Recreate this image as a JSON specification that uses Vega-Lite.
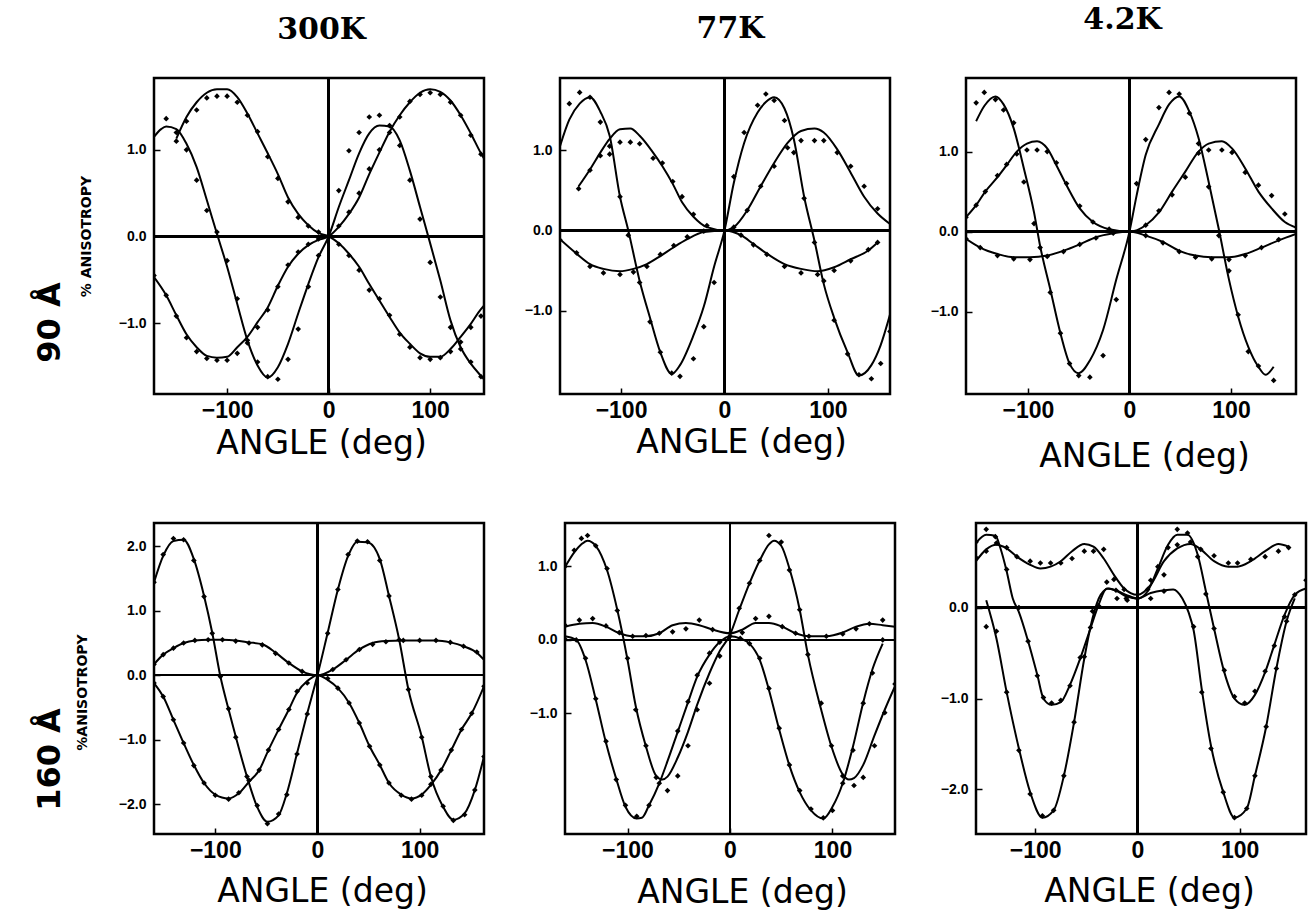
{
"$schema":"https://vega.github.io/schema/vega-lite/v6.json",
"padding":{"left":31,"top":2,"right":0,"bottom":0},
"background":"white",
"config":{
 "view":{"stroke":"black","strokeWidth":2.5},
 "axis":{"grid":false,"domain":false,"tickColor":"black","tickSize":-6,"tickWidth":1.5,"labelColor":"black","titleColor":"black","labelFont":"Liberation Sans","labelFontWeight":"bold"},
 "axisX":{"labelFontSize":23,"labelPadding":11,"titleFont":"DejaVu Sans","titleFontSize":33,"titleFontWeight":"normal","titleBaseline":"alphabetic"},
 "axisY":{"labelFontSize":14,"labelPadding":14,"titleFont":"DejaVu Sans","titleFontSize":14,"titleFontWeight":"bold","titleBaseline":"middle"},
 "line":{"color":"black","strokeWidth":2,"interpolate":"monotone"},
 "point":{"color":"black","filled":true,"shape":"diamond","size":32,"opacity":1},
 "rule":{"color":"black","strokeWidth":1.5}
},
"spacing":46,
"vconcat":[
{"spacing":37,
 "hconcat":[
 {"width":330,"height":316,"resolve":{"axis":{"x":"independent","y":"independent"}},
  "data":{"values":[
{"c":"a","x":-150,"y":1.13,"m":1.10},{"c":"a","x":-140,"y":1.38,"m":1.33},{"c":"a","x":-130,"y":1.55,"m":1.46},{"c":"a","x":-120,"y":1.66,"m":1.60},{"c":"a","x":-110,"y":1.70,"m":1.62},{"c":"a","x":-100,"y":1.70,"m":1.62},{"c":"a","x":-90,"y":1.61,"m":1.55},{"c":"a","x":-80,"y":1.42,"m":1.40},{"c":"a","x":-70,"y":1.19,"m":1.21},{"c":"a","x":-60,"y":0.96,"m":0.92},{"c":"a","x":-50,"y":0.72,"m":0.67},{"c":"a","x":-40,"y":0.45,"m":0.40},{"c":"a","x":-30,"y":0.26,"m":0.22},{"c":"a","x":-20,"y":0.13,"m":0.12},{"c":"a","x":-10,"y":0.04,"m":0.05},{"c":"a","x":0,"y":0,"m":0},{"c":"a","x":10,"y":-0.08,"m":-0.09},{"c":"a","x":20,"y":-0.20,"m":-0.22},{"c":"a","x":30,"y":-0.35,"m":-0.39},{"c":"a","x":40,"y":-0.55,"m":-0.62},{"c":"a","x":50,"y":-0.74,"m":-0.72},{"c":"a","x":60,"y":-0.93,"m":-0.91},{"c":"a","x":70,"y":-1.11,"m":-1.13},{"c":"a","x":80,"y":-1.24,"m":-1.28},{"c":"a","x":90,"y":-1.35,"m":-1.40},{"c":"a","x":100,"y":-1.39,"m":-1.42},{"c":"a","x":110,"y":-1.39,"m":-1.40},{"c":"a","x":120,"y":-1.30,"m":-1.33},{"c":"a","x":130,"y":-1.16,"m":-1.22},{"c":"a","x":140,"y":-1.01,"m":-1.05},{"c":"a","x":150,"y":-0.84,"m":-0.92},{"c":"a","x":153,"y":-0.80},
{"c":"b","x":-172,"y":-0.47,"m":-0.45},{"c":"b","x":-160,"y":-0.68,"m":-0.68},{"c":"b","x":-150,"y":-0.91,"m":-0.92},{"c":"b","x":-140,"y":-1.13,"m":-1.17},{"c":"b","x":-130,"y":-1.28,"m":-1.33},{"c":"b","x":-120,"y":-1.38,"m":-1.41},{"c":"b","x":-110,"y":-1.40,"m":-1.43},{"c":"b","x":-100,"y":-1.39,"m":-1.43},{"c":"b","x":-90,"y":-1.28,"m":-1.35},{"c":"b","x":-80,"y":-1.16,"m":-1.23},{"c":"b","x":-70,"y":-0.99,"m":-1.05},{"c":"b","x":-60,"y":-0.82,"m":-0.85},{"c":"b","x":-50,"y":-0.57,"m":-0.58},{"c":"b","x":-40,"y":-0.35,"m":-0.33},{"c":"b","x":-30,"y":-0.20,"m":-0.18},{"c":"b","x":-20,"y":-0.10,"m":-0.09},{"c":"b","x":-10,"y":-0.04,"m":-0.03},{"c":"b","x":0,"y":0},{"c":"b","x":10,"y":0.11,"m":0.12},{"c":"b","x":20,"y":0.26,"m":0.28},{"c":"b","x":30,"y":0.45,"m":0.50},{"c":"b","x":40,"y":0.72,"m":0.78},{"c":"b","x":50,"y":0.97,"m":1.00},{"c":"b","x":60,"y":1.21,"m":1.20},{"c":"b","x":70,"y":1.40,"m":1.38},{"c":"b","x":80,"y":1.55,"m":1.56},{"c":"b","x":90,"y":1.66,"m":1.64},{"c":"b","x":100,"y":1.70,"m":1.66},{"c":"b","x":110,"y":1.67,"m":1.64},{"c":"b","x":120,"y":1.57,"m":1.55},{"c":"b","x":130,"y":1.40,"m":1.40},{"c":"b","x":140,"y":1.19,"m":1.17},{"c":"b","x":150,"y":0.96,"m":0.95},{"c":"b","x":153,"y":0.90},
{"c":"c","x":-172,"y":1.15},{"c":"c","x":-165,"y":1.24},{"c":"c","x":-160,"y":1.27,"m":1.36},{"c":"c","x":-150,"y":1.24,"m":1.20},{"c":"c","x":-140,"y":1.07,"m":1.00},{"c":"c","x":-130,"y":0.80,"m":0.65},{"c":"c","x":-120,"y":0.42,"m":0.30},{"c":"c","x":-110,"y":0.03,"m":0.05},{"c":"c","x":-100,"y":-0.35,"m":-0.28},{"c":"c","x":-90,"y":-0.78,"m":-0.72},{"c":"c","x":-80,"y":-1.20,"m":-1.20},{"c":"c","x":-70,"y":-1.49,"m":-1.45},{"c":"c","x":-60,"y":-1.63,"m":-1.62},{"c":"c","x":-50,"y":-1.51,"m":-1.65},{"c":"c","x":-40,"y":-1.24,"m":-1.42},{"c":"c","x":-30,"y":-0.89,"m":-1.07},{"c":"c","x":-20,"y":-0.55,"m":-0.58},{"c":"c","x":-10,"y":-0.24,"m":-0.22},{"c":"c","x":0,"y":0},{"c":"c","x":10,"y":0.34,"m":0.53},{"c":"c","x":20,"y":0.65,"m":0.99},{"c":"c","x":30,"y":0.96,"m":1.20},{"c":"c","x":40,"y":1.19,"m":1.38},{"c":"c","x":50,"y":1.28,"m":1.40},{"c":"c","x":60,"y":1.27,"m":1.28},{"c":"c","x":70,"y":1.11,"m":1.05},{"c":"c","x":80,"y":0.76,"m":0.65},{"c":"c","x":90,"y":0.34,"m":0.20},{"c":"c","x":100,"y":-0.08,"m":-0.30},{"c":"c","x":110,"y":-0.51,"m":-0.70},{"c":"c","x":120,"y":-0.97,"m":-1.05},{"c":"c","x":130,"y":-1.28,"m":-1.30},{"c":"c","x":140,"y":-1.47,"m":-1.45},{"c":"c","x":150,"y":-1.61,"m":-1.62},{"c":"c","x":153,"y":-1.65}
  ]},
  "layer":[
   {"mark":{"type":"line","clip":true},"encoding":{
     "x":{"field":"x","type":"quantitative","scale":{"domain":[-172,153],"nice":false,"zero":false},"axis":{"values":[-100,0,100],"format":"d","title":"ANGLE (deg)","titleX":167,"titleY":59}},
     "y":{"field":"y","type":"quantitative","scale":{"domain":[-1.82,1.83],"nice":false,"zero":false},"axis":{"values":[-1,0,1],"format":".1f","title":"% ANISOTROPY","titleX":-68,"titleY":158}},
     "detail":{"field":"c","type":"nominal"}}},
   {"transform":[{"filter":"isValid(datum.m)"}],"mark":{"type":"point","clip":true},"encoding":{"x":{"field":"x","type":"quantitative","axis":null},"y":{"field":"m","type":"quantitative","axis":null}}},
   {"mark":"rule","encoding":{"y":{"datum":0,"axis":{"orient":"left","title":"90 Å","labels":false,"ticks":false,"titleFont":"DejaVu Sans","titleFontSize":32,"titleFontWeight":"bold","titleX":-105,"titleY":244}}}},
   {"mark":"rule","encoding":{"x":{"datum":0,"axis":{"orient":"top","title":"300K","labels":false,"ticks":false,"titleFont":"DejaVu Serif","titleFontSize":30,"titleFontWeight":"bold","titleX":167,"titleY":-40}}}}
  ]},
 {"width":330,"height":316,"resolve":{"axis":{"x":"independent","y":"independent"}},
  "data":{"values":[
{"c":"a","x":-159,"y":1.05},{"c":"a","x":-150,"y":1.38,"m":1.58},{"c":"a","x":-140,"y":1.58,"m":1.72},{"c":"a","x":-130,"y":1.66,"m":1.66},{"c":"a","x":-120,"y":1.48,"m":1.35},{"c":"a","x":-111,"y":1.18,"m":0.95},{"c":"a","x":-101,"y":0.42,"m":0.42},{"c":"a","x":-93,"y":0.0,"m":-0.06},{"c":"a","x":-82,"y":-0.63,"m":-0.65},{"c":"a","x":-72,"y":-1.09,"m":-1.14},{"c":"a","x":-62,"y":-1.52,"m":-1.52},{"c":"a","x":-51,"y":-1.79,"m":-1.78},{"c":"a","x":-43,"y":-1.68,"m":-1.82},{"c":"a","x":-30,"y":-1.31,"m":-1.60},{"c":"a","x":-20,"y":-0.95,"m":-1.20},{"c":"a","x":-10,"y":-0.45,"m":-0.65},{"c":"a","x":0,"y":0},{"c":"a","x":9,"y":0.59,"m":0.67},{"c":"a","x":19,"y":1.09,"m":1.22},{"c":"a","x":32,"y":1.47,"m":1.56},{"c":"a","x":40,"y":1.60,"m":1.70},{"c":"a","x":48,"y":1.66,"m":1.62},{"c":"a","x":58,"y":1.52,"m":1.37},{"c":"a","x":67,"y":1.14,"m":0.97},{"c":"a","x":77,"y":0.42,"m":0.40},{"c":"a","x":87,"y":-0.13,"m":-0.15},{"c":"a","x":96,"y":-0.67,"m":-0.63},{"c":"a","x":106,"y":-1.09,"m":-1.12},{"c":"a","x":119,"y":-1.52,"m":-1.54},{"c":"a","x":130,"y":-1.81,"m":-1.80},{"c":"a","x":142,"y":-1.68,"m":-1.85},{"c":"a","x":151,"y":-1.43,"m":-1.66},{"c":"a","x":160,"y":-1.05,"m":-1.26},
{"c":"b","x":-141,"y":0.55,"m":0.52},{"c":"b","x":-130,"y":0.76,"m":0.75},{"c":"b","x":-120,"y":0.97,"m":0.93},{"c":"b","x":-111,"y":1.14,"m":1.05},{"c":"b","x":-101,"y":1.26,"m":1.10},{"c":"b","x":-91,"y":1.27,"m":1.10},{"c":"b","x":-82,"y":1.18,"m":1.08},{"c":"b","x":-69,"y":0.97,"m":0.90},{"c":"b","x":-60,"y":0.80,"m":0.84},{"c":"b","x":-50,"y":0.58,"m":0.61},{"c":"b","x":-41,"y":0.35,"m":0.42},{"c":"b","x":-30,"y":0.17,"m":0.20},{"c":"b","x":-17,"y":0.04,"m":0.06},{"c":"b","x":0,"y":0,"m":0},{"c":"b","x":9,"y":0.04,"m":0.04},{"c":"b","x":22,"y":0.25,"m":0.25},{"c":"b","x":35,"y":0.55,"m":0.55},{"c":"b","x":48,"y":0.84,"m":0.80},{"c":"b","x":61,"y":1.09,"m":1.03},{"c":"b","x":74,"y":1.24,"m":1.12},{"c":"b","x":87,"y":1.27,"m":1.12},{"c":"b","x":96,"y":1.22,"m":1.12},{"c":"b","x":109,"y":1.01,"m":0.97},{"c":"b","x":122,"y":0.72,"m":0.80},{"c":"b","x":135,"y":0.42,"m":0.55},{"c":"b","x":148,"y":0.21,"m":0.27},{"c":"b","x":160,"y":0.08},
{"c":"c","x":-159,"y":-0.11,"m":-0.12},{"c":"c","x":-143,"y":-0.29,"m":-0.28},{"c":"c","x":-130,"y":-0.42,"m":-0.45},{"c":"c","x":-117,"y":-0.48,"m":-0.53},{"c":"c","x":-101,"y":-0.51,"m":-0.55},{"c":"c","x":-88,"y":-0.48,"m":-0.52},{"c":"c","x":-75,"y":-0.42,"m":-0.45},{"c":"c","x":-62,"y":-0.32,"m":-0.30},{"c":"c","x":-49,"y":-0.21,"m":-0.19},{"c":"c","x":-36,"y":-0.11,"m":-0.08},{"c":"c","x":-20,"y":-0.02,"m":-0.01},{"c":"c","x":0,"y":0},{"c":"c","x":16,"y":-0.06,"m":-0.06},{"c":"c","x":28,"y":-0.17,"m":-0.18},{"c":"c","x":41,"y":-0.29,"m":-0.30},{"c":"c","x":58,"y":-0.42,"m":-0.45},{"c":"c","x":74,"y":-0.48,"m":-0.53},{"c":"c","x":90,"y":-0.51,"m":-0.55},{"c":"c","x":106,"y":-0.46,"m":-0.50},{"c":"c","x":122,"y":-0.36,"m":-0.38},{"c":"c","x":139,"y":-0.25,"m":-0.24},{"c":"c","x":148,"y":-0.15,"m":-0.15}
  ]},
  "layer":[
   {"mark":{"type":"line","clip":true},"encoding":{
     "x":{"field":"x","type":"quantitative","scale":{"domain":[-159,160],"nice":false,"zero":false},"axis":{"values":[-100,0,100],"format":"d","title":"ANGLE (deg)","titleX":181,"titleY":58}},
     "y":{"field":"y","type":"quantitative","scale":{"domain":[-2.04,1.90],"nice":false,"zero":false},"axis":{"values":[-1,0,1],"format":".1f","title":null}},
     "detail":{"field":"c","type":"nominal"}}},
   {"transform":[{"filter":"isValid(datum.m)"}],"mark":{"type":"point","clip":true},"encoding":{"x":{"field":"x","type":"quantitative","axis":null},"y":{"field":"m","type":"quantitative","axis":null}}},
   {"mark":"rule","encoding":{"y":{"datum":0,"axis":null}}},
   {"mark":"rule","encoding":{"x":{"datum":0,"axis":{"orient":"top","title":"77K","labels":false,"ticks":false,"titleFont":"DejaVu Serif","titleFontSize":30,"titleFontWeight":"bold","titleX":170,"titleY":-41}}}}
  ]},
 {"width":330,"height":316,"resolve":{"axis":{"x":"independent","y":"independent"}},
  "data":{"values":[
{"c":"a","x":-151,"y":1.38,"m":1.61},{"c":"a","x":-143,"y":1.57,"m":1.74},{"c":"a","x":-132,"y":1.69,"m":1.65},{"c":"a","x":-124,"y":1.59,"m":1.52},{"c":"a","x":-114,"y":1.29,"m":1.36},{"c":"a","x":-104,"y":0.79,"m":0.62},{"c":"a","x":-94,"y":0.24,"m":0.10},{"c":"a","x":-88,"y":-0.18,"m":-0.20},{"c":"a","x":-78,"y":-0.72,"m":-0.76},{"c":"a","x":-68,"y":-1.27,"m":-1.27},{"c":"a","x":-59,"y":-1.65,"m":-1.65},{"c":"a","x":-50,"y":-1.77,"m":-1.80},{"c":"a","x":-39,"y":-1.61,"m":-1.82},{"c":"a","x":-26,"y":-1.23,"m":-1.55},{"c":"a","x":-13,"y":-0.60,"m":-0.85},{"c":"a","x":0,"y":0},{"c":"a","x":7,"y":0.45,"m":0.60},{"c":"a","x":16,"y":0.96,"m":1.15},{"c":"a","x":29,"y":1.34,"m":1.55},{"c":"a","x":39,"y":1.59,"m":1.74},{"c":"a","x":49,"y":1.69,"m":1.72},{"c":"a","x":59,"y":1.50,"m":1.48},{"c":"a","x":68,"y":1.17,"m":1.10},{"c":"a","x":78,"y":0.62,"m":0.56},{"c":"a","x":88,"y":0.03,"m":-0.05},{"c":"a","x":98,"y":-0.60,"m":-0.49},{"c":"a","x":107,"y":-1.06,"m":-1.04},{"c":"a","x":117,"y":-1.44,"m":-1.50},{"c":"a","x":127,"y":-1.69,"m":-1.68},{"c":"a","x":134,"y":-1.79},{"c":"a","x":142,"y":-1.69,"m":-1.86},
{"c":"b","x":-161,"y":0.18,"m":0.18},{"c":"b","x":-151,"y":0.33,"m":0.33},{"c":"b","x":-142,"y":0.50,"m":0.50},{"c":"b","x":-130,"y":0.68,"m":0.70},{"c":"b","x":-121,"y":0.83,"m":0.84},{"c":"b","x":-111,"y":1.00,"m":0.97},{"c":"b","x":-101,"y":1.10,"m":1.02},{"c":"b","x":-91,"y":1.13,"m":1.02},{"c":"b","x":-81,"y":1.04,"m":1.00},{"c":"b","x":-72,"y":0.83,"m":0.86},{"c":"b","x":-62,"y":0.58,"m":0.60},{"c":"b","x":-49,"y":0.29,"m":0.32},{"c":"b","x":-36,"y":0.12,"m":0.12},{"c":"b","x":-20,"y":0.03,"m":0.03},{"c":"b","x":0,"y":0,"m":0},{"c":"b","x":16,"y":0.08,"m":0.08},{"c":"b","x":29,"y":0.24,"m":0.26},{"c":"b","x":42,"y":0.50,"m":0.46},{"c":"b","x":55,"y":0.75,"m":0.68},{"c":"b","x":68,"y":1.00,"m":0.98},{"c":"b","x":78,"y":1.10,"m":1.02},{"c":"b","x":91,"y":1.13,"m":1.02},{"c":"b","x":101,"y":1.04,"m":0.99},{"c":"b","x":114,"y":0.79,"m":0.74},{"c":"b","x":127,"y":0.50,"m":0.58},{"c":"b","x":140,"y":0.29,"m":0.45},{"c":"b","x":153,"y":0.12,"m":0.22},{"c":"b","x":164,"y":0.05},
{"c":"c","x":-161,"y":-0.09,"m":-0.09},{"c":"c","x":-147,"y":-0.20,"m":-0.20},{"c":"c","x":-130,"y":-0.28,"m":-0.30},{"c":"c","x":-114,"y":-0.32,"m":-0.34},{"c":"c","x":-98,"y":-0.32,"m":-0.35},{"c":"c","x":-81,"y":-0.30,"m":-0.31},{"c":"c","x":-65,"y":-0.24,"m":-0.25},{"c":"c","x":-49,"y":-0.16,"m":-0.16},{"c":"c","x":-33,"y":-0.07,"m":-0.08},{"c":"c","x":-16,"y":-0.02,"m":-0.02},{"c":"c","x":0,"y":0},{"c":"c","x":16,"y":-0.05,"m":-0.05},{"c":"c","x":33,"y":-0.13,"m":-0.14},{"c":"c","x":49,"y":-0.24,"m":-0.25},{"c":"c","x":65,"y":-0.30,"m":-0.32},{"c":"c","x":81,"y":-0.32,"m":-0.34},{"c":"c","x":98,"y":-0.32,"m":-0.35},{"c":"c","x":114,"y":-0.28,"m":-0.30},{"c":"c","x":130,"y":-0.20,"m":-0.20},{"c":"c","x":147,"y":-0.11,"m":-0.10},{"c":"c","x":164,"y":-0.03}
  ]},
  "layer":[
   {"mark":{"type":"line","clip":true},"encoding":{
     "x":{"field":"x","type":"quantitative","scale":{"domain":[-161,164],"nice":false,"zero":false},"axis":{"values":[-100,0,100],"format":"d","title":"ANGLE (deg)","titleX":178,"titleY":72}},
     "y":{"field":"y","type":"quantitative","scale":{"domain":[-2.03,1.92],"nice":false,"zero":false},"axis":{"values":[-1,0,1],"format":".1f","title":null}},
     "detail":{"field":"c","type":"nominal"}}},
   {"transform":[{"filter":"isValid(datum.m)"}],"mark":{"type":"point","clip":true},"encoding":{"x":{"field":"x","type":"quantitative","axis":null},"y":{"field":"m","type":"quantitative","axis":null}}},
   {"mark":"rule","encoding":{"y":{"datum":0,"axis":null}}},
   {"mark":"rule","encoding":{"x":{"datum":0,"axis":{"orient":"top","title":"4.2K","labels":false,"ticks":false,"titleFont":"DejaVu Serif","titleFontSize":30,"titleFontWeight":"bold","titleX":156,"titleY":-50}}}}
  ]}
 ]},
{"spacing":42,
 "hconcat":[
 {"width":330,"height":311,"resolve":{"axis":{"x":"independent","y":"independent"}},
  "data":{"values":[
{"c":"a","x":-160,"y":1.44,"m":1.44},{"c":"a","x":-151,"y":1.85,"m":1.87},{"c":"a","x":-141,"y":2.08,"m":2.12},{"c":"a","x":-131,"y":2.10,"m":2.10},{"c":"a","x":-121,"y":1.80,"m":1.78},{"c":"a","x":-111,"y":1.23,"m":1.22},{"c":"a","x":-103,"y":0.66,"m":0.65},{"c":"a","x":-95,"y":-0.02,"m":-0.02},{"c":"a","x":-87,"y":-0.53,"m":-0.52},{"c":"a","x":-80,"y":-0.95,"m":-0.96},{"c":"a","x":-69,"y":-1.57,"m":-1.57},{"c":"a","x":-59,"y":-2.04,"m":-2.02},{"c":"a","x":-49,"y":-2.27,"m":-2.30},{"c":"a","x":-38,"y":-2.17,"m":-2.15},{"c":"a","x":-30,"y":-1.83,"m":-1.85},{"c":"a","x":-20,"y":-1.21,"m":-1.22},{"c":"a","x":-10,"y":-0.59,"m":-0.60},{"c":"a","x":0,"y":0},{"c":"a","x":10,"y":0.66,"m":0.65},{"c":"a","x":20,"y":1.33,"m":1.33},{"c":"a","x":30,"y":1.85,"m":1.87},{"c":"a","x":39,"y":2.07,"m":2.08},{"c":"a","x":49,"y":2.06,"m":2.07},{"c":"a","x":61,"y":1.80,"m":1.78},{"c":"a","x":70,"y":1.23,"m":1.23},{"c":"a","x":80,"y":0.55,"m":0.55},{"c":"a","x":89,"y":-0.22,"m":-0.22},{"c":"a","x":102,"y":-0.95,"m":-0.96},{"c":"a","x":111,"y":-1.57,"m":-1.57},{"c":"a","x":123,"y":-2.04,"m":-2.03},{"c":"a","x":133,"y":-2.24,"m":-2.25},{"c":"a","x":144,"y":-2.14,"m":-2.16},{"c":"a","x":154,"y":-1.78,"m":-1.78},{"c":"a","x":163,"y":-1.26,"m":-1.26},
{"c":"b","x":-160,"y":-0.12,"m":-0.12},{"c":"b","x":-151,"y":-0.33,"m":-0.33},{"c":"b","x":-141,"y":-0.69,"m":-0.69},{"c":"b","x":-131,"y":-1.05,"m":-1.05},{"c":"b","x":-121,"y":-1.39,"m":-1.40},{"c":"b","x":-111,"y":-1.67,"m":-1.67},{"c":"b","x":-100,"y":-1.85,"m":-1.86},{"c":"b","x":-87,"y":-1.91,"m":-1.92},{"c":"b","x":-77,"y":-1.83,"m":-1.82},{"c":"b","x":-67,"y":-1.65,"m":-1.63},{"c":"b","x":-57,"y":-1.47,"m":-1.47},{"c":"b","x":-48,"y":-1.16,"m":-1.16},{"c":"b","x":-38,"y":-0.84,"m":-0.84},{"c":"b","x":-28,"y":-0.53,"m":-0.53},{"c":"b","x":-20,"y":-0.27,"m":-0.25},{"c":"b","x":-10,"y":-0.09,"m":-0.12},{"c":"b","x":0,"y":0},{"c":"b","x":10,"y":-0.07,"m":-0.05},{"c":"b","x":20,"y":-0.20,"m":-0.20},{"c":"b","x":31,"y":-0.43,"m":-0.43},{"c":"b","x":41,"y":-0.74,"m":-0.74},{"c":"b","x":51,"y":-1.10,"m":-1.10},{"c":"b","x":61,"y":-1.39,"m":-1.39},{"c":"b","x":70,"y":-1.67,"m":-1.67},{"c":"b","x":82,"y":-1.85,"m":-1.86},{"c":"b","x":92,"y":-1.91,"m":-1.92},{"c":"b","x":102,"y":-1.85,"m":-1.86},{"c":"b","x":111,"y":-1.70,"m":-1.69},{"c":"b","x":121,"y":-1.47,"m":-1.47},{"c":"b","x":131,"y":-1.16,"m":-1.16},{"c":"b","x":141,"y":-0.84,"m":-0.84},{"c":"b","x":151,"y":-0.59,"m":-0.59},{"c":"b","x":163,"y":-0.17,"m":-0.17},
{"c":"c","x":-160,"y":0.17,"m":0.17},{"c":"c","x":-151,"y":0.32,"m":0.32},{"c":"c","x":-141,"y":0.42,"m":0.42},{"c":"c","x":-131,"y":0.50,"m":0.50},{"c":"c","x":-120,"y":0.54,"m":0.54},{"c":"c","x":-107,"y":0.55,"m":0.55},{"c":"c","x":-93,"y":0.55,"m":0.55},{"c":"c","x":-80,"y":0.54,"m":0.53},{"c":"c","x":-67,"y":0.51,"m":0.50},{"c":"c","x":-54,"y":0.48,"m":0.47},{"c":"c","x":-41,"y":0.35,"m":0.34},{"c":"c","x":-28,"y":0.19,"m":0.19},{"c":"c","x":-15,"y":0.06,"m":0.06},{"c":"c","x":0,"y":0,"m":0},{"c":"c","x":15,"y":0.09,"m":0.09},{"c":"c","x":28,"y":0.24,"m":0.24},{"c":"c","x":41,"y":0.40,"m":0.40},{"c":"c","x":54,"y":0.50,"m":0.48},{"c":"c","x":67,"y":0.53,"m":0.52},{"c":"c","x":84,"y":0.54,"m":0.54},{"c":"c","x":100,"y":0.54,"m":0.54},{"c":"c","x":116,"y":0.54,"m":0.54},{"c":"c","x":130,"y":0.51,"m":0.51},{"c":"c","x":143,"y":0.45,"m":0.45},{"c":"c","x":156,"y":0.35,"m":0.36},{"c":"c","x":163,"y":0.24}
  ]},
  "layer":[
   {"mark":{"type":"line","clip":true},"encoding":{
     "x":{"field":"x","type":"quantitative","scale":{"domain":[-160,163],"nice":false,"zero":false},"axis":{"values":[-100,0,100],"format":"d","title":"ANGLE (deg)","titleX":168,"titleY":67}},
     "y":{"field":"y","type":"quantitative","scale":{"domain":[-2.46,2.36],"nice":false,"zero":false},"axis":{"values":[-2,-1,0,1,2],"format":".1f","title":"%ANISOTROPY","titleX":-72,"titleY":169}},
     "detail":{"field":"c","type":"nominal"}}},
   {"transform":[{"filter":"isValid(datum.m)"}],"mark":{"type":"point","clip":true},"encoding":{"x":{"field":"x","type":"quantitative","axis":null},"y":{"field":"m","type":"quantitative","axis":null}}},
   {"mark":"rule","encoding":{"y":{"datum":0,"axis":{"orient":"left","title":"160 Å","labels":false,"ticks":false,"titleFont":"DejaVu Sans","titleFontSize":32,"titleFontWeight":"bold","titleX":-105,"titleY":236}}}},
   {"mark":"rule","encoding":{"x":{"datum":0,"axis":null}}}
  ]},
 {"width":330,"height":311,"resolve":{"axis":{"x":"independent","y":"independent"}},
  "data":{"values":[
{"c":"a","x":-161,"y":0.99,"m":1.00},{"c":"a","x":-152,"y":1.19,"m":1.22},{"c":"a","x":-145,"y":1.30,"m":1.38},{"c":"a","x":-139,"y":1.35,"m":1.42},{"c":"a","x":-131,"y":1.28,"m":1.28},{"c":"a","x":-120,"y":0.95,"m":0.97},{"c":"a","x":-110,"y":0.41,"m":0.40},{"c":"a","x":-100,"y":-0.27,"m":-0.25},{"c":"a","x":-92,"y":-0.90,"m":-0.95},{"c":"a","x":-82,"y":-1.45,"m":-1.44},{"c":"a","x":-72,"y":-1.85,"m":-1.87},{"c":"a","x":-66,"y":-1.90},{"c":"a","x":-61,"y":-1.86,"m":-2.05},{"c":"a","x":-51,"y":-1.60,"m":-1.85},{"c":"a","x":-41,"y":-1.25,"m":-1.44},{"c":"a","x":-32,"y":-0.88,"m":-0.95},{"c":"a","x":-20,"y":-0.45,"m":-0.59},{"c":"a","x":-10,"y":-0.15,"m":-0.22},{"c":"a","x":0,"y":0.07},{"c":"a","x":9,"y":0.41,"m":0.43},{"c":"a","x":19,"y":0.77,"m":0.77},{"c":"a","x":29,"y":1.08,"m":1.08},{"c":"a","x":38,"y":1.30,"m":1.42},{"c":"a","x":43,"y":1.35},{"c":"a","x":50,"y":1.28,"m":1.33},{"c":"a","x":58,"y":0.97,"m":0.95},{"c":"a","x":68,"y":0.41,"m":0.41},{"c":"a","x":76,"y":-0.20,"m":-0.20},{"c":"a","x":89,"y":-0.95,"m":-0.86},{"c":"a","x":99,"y":-1.45,"m":-1.44},{"c":"a","x":110,"y":-1.83,"m":-1.85},{"c":"a","x":116,"y":-1.90},{"c":"a","x":121,"y":-1.88,"m":-1.98},{"c":"a","x":130,"y":-1.70,"m":-1.87},{"c":"a","x":141,"y":-1.30,"m":-1.44},{"c":"a","x":151,"y":-0.95,"m":-0.99},{"c":"a","x":161,"y":-0.63,"m":-0.60},
{"c":"b","x":-161,"y":0.05,"m":0.01},{"c":"b","x":-150,"y":0.0,"m":0.0},{"c":"b","x":-141,"y":-0.27,"m":-0.25},{"c":"b","x":-131,"y":-0.81,"m":-0.80},{"c":"b","x":-121,"y":-1.40,"m":-1.38},{"c":"b","x":-111,"y":-1.89,"m":-1.90},{"c":"b","x":-102,"y":-2.27,"m":-2.25},{"c":"b","x":-91,"y":-2.43,"m":-2.40},{"c":"b","x":-86,"y":-2.42},{"c":"b","x":-79,"y":-2.25,"m":-2.25},{"c":"b","x":-69,"y":-1.95,"m":-1.95},{"c":"b","x":-61,"y":-1.65},{"c":"b","x":-51,"y":-1.25,"m":-1.24},{"c":"b","x":-41,"y":-0.85,"m":-0.84},{"c":"b","x":-32,"y":-0.50,"m":-0.48},{"c":"b","x":-20,"y":-0.20,"m":-0.18},{"c":"b","x":-10,"y":-0.03,"m":-0.03},{"c":"b","x":0,"y":0.05,"m":0.05},{"c":"b","x":10,"y":0.02,"m":0.02},{"c":"b","x":19,"y":-0.05,"m":-0.05},{"c":"b","x":29,"y":-0.27,"m":-0.25},{"c":"b","x":38,"y":-0.68,"m":-0.66},{"c":"b","x":48,"y":-1.22,"m":-1.20},{"c":"b","x":58,"y":-1.71,"m":-1.70},{"c":"b","x":68,"y":-2.07,"m":-2.05},{"c":"b","x":79,"y":-2.32,"m":-2.30},{"c":"b","x":91,"y":-2.43,"m":-2.42},{"c":"b","x":100,"y":-2.27,"m":-2.32},{"c":"b","x":110,"y":-1.95,"m":-1.95},{"c":"b","x":120,"y":-1.45,"m":-1.50},{"c":"b","x":130,"y":-0.85,"m":-0.86},{"c":"b","x":139,"y":-0.40,"m":-0.45},{"c":"b","x":149,"y":-0.05,"m":0.0},
{"c":"c","x":-161,"y":0.18,"m":0.20},{"c":"c","x":-147,"y":0.22,"m":0.27},{"c":"c","x":-134,"y":0.23,"m":0.29},{"c":"c","x":-121,"y":0.18,"m":0.19},{"c":"c","x":-108,"y":0.09,"m":0.10},{"c":"c","x":-95,"y":0.05,"m":0.05},{"c":"c","x":-82,"y":0.05,"m":0.06},{"c":"c","x":-69,"y":0.09,"m":0.09},{"c":"c","x":-56,"y":0.20,"m":0.11},{"c":"c","x":-43,"y":0.23,"m":0.15},{"c":"c","x":-30,"y":0.20,"m":0.27},{"c":"c","x":-17,"y":0.14,"m":0.14},{"c":"c","x":0,"y":0.09,"m":0.09},{"c":"c","x":12,"y":0.14,"m":0.10},{"c":"c","x":25,"y":0.23,"m":0.29},{"c":"c","x":38,"y":0.23,"m":0.32},{"c":"c","x":51,"y":0.18,"m":0.18},{"c":"c","x":64,"y":0.09,"m":0.09},{"c":"c","x":77,"y":0.05,"m":0.05},{"c":"c","x":94,"y":0.05,"m":0.05},{"c":"c","x":110,"y":0.10,"m":0.08},{"c":"c","x":123,"y":0.18,"m":0.15},{"c":"c","x":136,"y":0.22,"m":0.22},{"c":"c","x":149,"y":0.20,"m":0.27},{"c":"c","x":161,"y":0.18}
  ]},
  "layer":[
   {"mark":{"type":"line","clip":true},"encoding":{
     "x":{"field":"x","type":"quantitative","scale":{"domain":[-161,161],"nice":false,"zero":false},"axis":{"values":[-100,0,100],"format":"d","title":"ANGLE (deg)","titleX":177,"titleY":68}},
     "y":{"field":"y","type":"quantitative","scale":{"domain":[-2.64,1.59],"nice":false,"zero":false},"axis":{"values":[-1,0,1],"format":".1f","title":null}},
     "detail":{"field":"c","type":"nominal"}}},
   {"transform":[{"filter":"isValid(datum.m)"}],"mark":{"type":"point","clip":true},"encoding":{"x":{"field":"x","type":"quantitative","axis":null},"y":{"field":"m","type":"quantitative","axis":null}}},
   {"mark":"rule","encoding":{"y":{"datum":0,"axis":null}}},
   {"mark":"rule","encoding":{"x":{"datum":0,"axis":null}}}
  ]},
 {"width":330,"height":311,"resolve":{"axis":{"x":"independent","y":"independent"}},
  "data":{"values":[
{"c":"a","x":-158,"y":0.51,"m":0.55},{"c":"a","x":-148,"y":0.64,"m":0.62},{"c":"a","x":-138,"y":0.69,"m":0.71},{"c":"a","x":-128,"y":0.65,"m":0.66},{"c":"a","x":-118,"y":0.56,"m":0.56},{"c":"a","x":-105,"y":0.47,"m":0.51},{"c":"a","x":-95,"y":0.43,"m":0.49},{"c":"a","x":-85,"y":0.45,"m":0.49},{"c":"a","x":-75,"y":0.51,"m":0.49},{"c":"a","x":-64,"y":0.62,"m":0.54},{"c":"a","x":-52,"y":0.70,"m":0.62},{"c":"a","x":-43,"y":0.67,"m":0.62},{"c":"a","x":-33,"y":0.54,"m":0.64},{"c":"a","x":-23,"y":0.36,"m":0.31},{"c":"a","x":-13,"y":0.21,"m":0.20},{"c":"a","x":0,"y":0.14},{"c":"a","x":13,"y":0.25,"m":0.30},{"c":"a","x":26,"y":0.51,"m":0.36},{"c":"a","x":39,"y":0.65,"m":0.69},{"c":"a","x":52,"y":0.70,"m":0.72},{"c":"a","x":62,"y":0.64,"m":0.64},{"c":"a","x":75,"y":0.51,"m":0.57},{"c":"a","x":89,"y":0.45,"m":0.49},{"c":"a","x":98,"y":0.45,"m":0.49},{"c":"a","x":111,"y":0.51,"m":0.53},{"c":"a","x":125,"y":0.62,"m":0.56},{"c":"a","x":138,"y":0.70,"m":0.62},{"c":"a","x":148,"y":0.67,"m":0.66},
{"c":"b","x":-158,"y":0.71,"m":0.72},{"c":"b","x":-148,"y":0.80,"m":0.86},{"c":"b","x":-139,"y":0.79,"m":0.78},{"c":"b","x":-134,"y":0.65},{"c":"b","x":-128,"y":0.40,"m":0.42},{"c":"b","x":-122,"y":0.10},{"c":"b","x":-116,"y":-0.05,"m":0.0},{"c":"b","x":-107,"y":-0.37,"m":-0.37},{"c":"b","x":-98,"y":-0.74,"m":-0.75},{"c":"b","x":-92,"y":-1.00,"m":-0.99},{"c":"b","x":-84,"y":-1.07,"m":-1.05},{"c":"b","x":-75,"y":-1.04,"m":-1.02},{"c":"b","x":-66,"y":-0.85,"m":-0.86},{"c":"b","x":-56,"y":-0.56,"m":-0.55},{"c":"b","x":-46,"y":-0.23,"m":-0.22},{"c":"b","x":-38,"y":0.03,"m":0.02},{"c":"b","x":-30,"y":0.21,"m":0.28},{"c":"b","x":-21,"y":0.19,"m":0.19},{"c":"b","x":-11,"y":0.14,"m":0.10},{"c":"b","x":0,"y":0.10},{"c":"b","x":10,"y":0.18,"m":0.20},{"c":"b","x":20,"y":0.43,"m":0.45},{"c":"b","x":30,"y":0.69,"m":0.66},{"c":"b","x":39,"y":0.80,"m":0.86},{"c":"b","x":49,"y":0.80,"m":0.82},{"c":"b","x":59,"y":0.58,"m":0.56},{"c":"b","x":67,"y":0.18,"m":0.15},{"c":"b","x":75,"y":-0.23,"m":-0.23},{"c":"b","x":85,"y":-0.71,"m":-0.69},{"c":"b","x":95,"y":-1.00,"m":-0.98},{"c":"b","x":105,"y":-1.07,"m":-1.05},{"c":"b","x":115,"y":-0.96,"m":-0.92},{"c":"b","x":125,"y":-0.71,"m":-0.70},{"c":"b","x":134,"y":-0.41,"m":-0.42},{"c":"b","x":144,"y":-0.08,"m":-0.10},{"c":"b","x":154,"y":0.14,"m":0.14},{"c":"b","x":165,"y":0.21,"m":0.30},
{"c":"c","x":-148,"y":0.08,"m":-0.21},{"c":"c","x":-138,"y":-0.34,"m":-0.26},{"c":"c","x":-128,"y":-0.93,"m":-0.93},{"c":"c","x":-116,"y":-1.55,"m":-1.57},{"c":"c","x":-105,"y":-2.03,"m":-2.05},{"c":"c","x":-93,"y":-2.31,"m":-2.29},{"c":"c","x":-82,"y":-2.23,"m":-2.23},{"c":"c","x":-72,"y":-1.85,"m":-1.85},{"c":"c","x":-62,"y":-1.26,"m":-1.26},{"c":"c","x":-52,"y":-0.56,"m":-0.54},{"c":"c","x":-44,"y":-0.12,"m":-0.04},{"c":"c","x":-36,"y":0.14},{"c":"c","x":-28,"y":0.21},{"c":"c","x":-20,"y":0.18,"m":0.10},{"c":"c","x":-10,"y":0.12,"m":0.08},{"c":"c","x":0,"y":0.10},{"c":"c","x":13,"y":0.16,"m":0.10},{"c":"c","x":26,"y":0.19,"m":0.18},{"c":"c","x":35,"y":0.20},{"c":"c","x":44,"y":0.10},{"c":"c","x":50,"y":-0.05},{"c":"c","x":55,"y":-0.25,"m":-0.21},{"c":"c","x":63,"y":-0.90,"m":-0.93},{"c":"c","x":72,"y":-1.52,"m":-1.55},{"c":"c","x":84,"y":-2.03,"m":-2.03},{"c":"c","x":95,"y":-2.31,"m":-2.31},{"c":"c","x":107,"y":-2.21,"m":-2.21},{"c":"c","x":115,"y":-1.85,"m":-1.85},{"c":"c","x":126,"y":-1.31,"m":-1.31},{"c":"c","x":136,"y":-0.67,"m":-0.67},{"c":"c","x":146,"y":-0.15,"m":-0.15},{"c":"c","x":154,"y":0.10}
  ]},
  "layer":[
   {"mark":{"type":"line","clip":true},"encoding":{
     "x":{"field":"x","type":"quantitative","scale":{"domain":[-158,165],"nice":false,"zero":false},"axis":{"values":[-100,0,100],"format":"d","title":"ANGLE (deg)","titleX":173,"titleY":67}},
     "y":{"field":"y","type":"quantitative","scale":{"domain":[-2.49,0.93],"nice":false,"zero":false},"axis":{"values":[-2,-1,0],"format":".1f","title":null}},
     "detail":{"field":"c","type":"nominal"}}},
   {"transform":[{"filter":"isValid(datum.m)"}],"mark":{"type":"point","clip":true},"encoding":{"x":{"field":"x","type":"quantitative","axis":null},"y":{"field":"m","type":"quantitative","axis":null}}},
   {"mark":"rule","encoding":{"y":{"datum":0,"axis":null}}},
   {"mark":"rule","encoding":{"x":{"datum":0,"axis":null}}}
  ]}
 ]}
]
}
